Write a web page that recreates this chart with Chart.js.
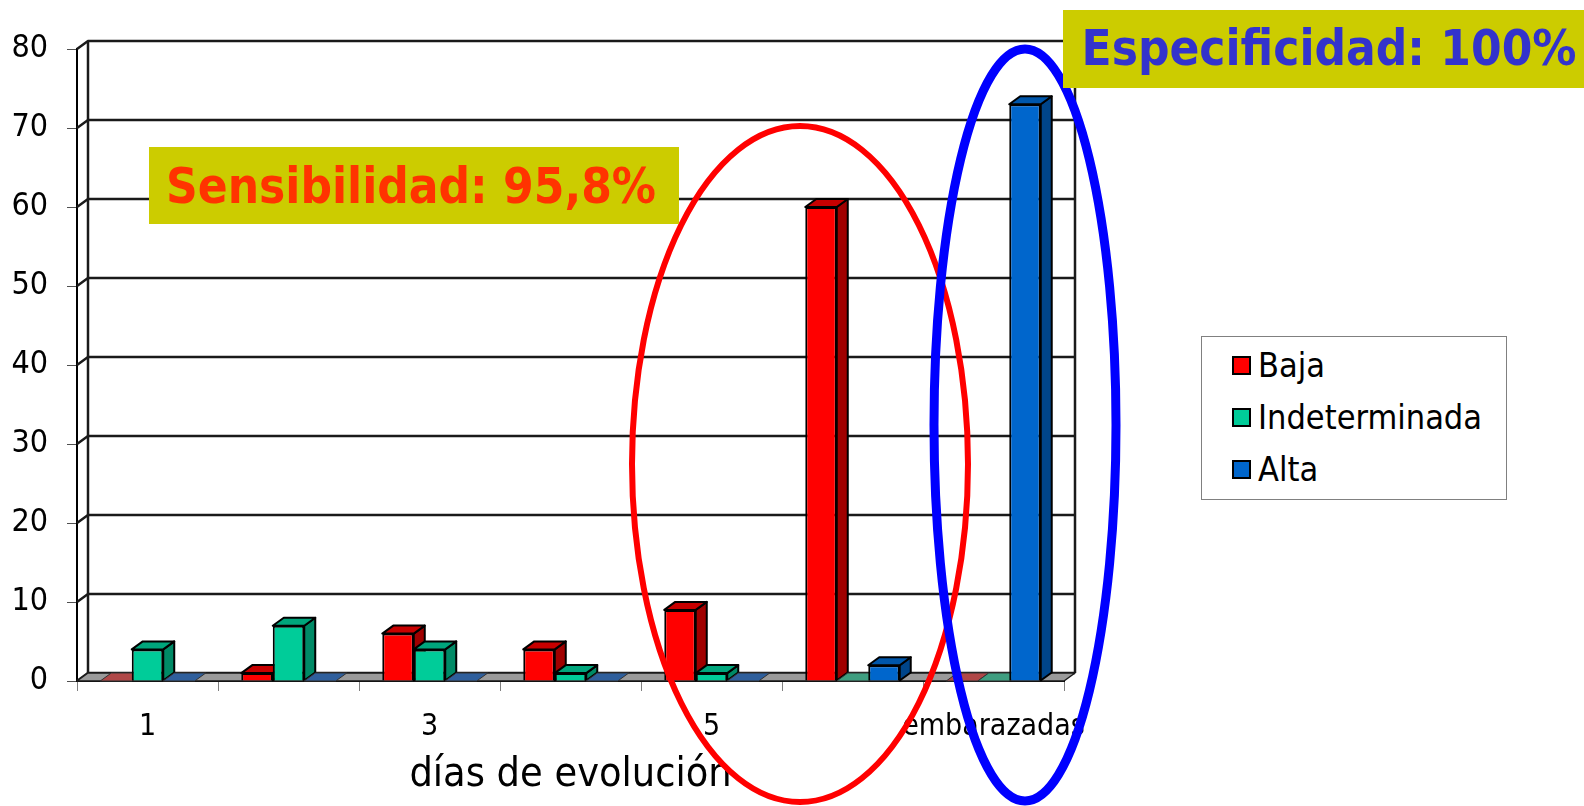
<!DOCTYPE html>
<html>
<head>
<meta charset="utf-8">
<script src="https://cdn.jsdelivr.net/npm/chart.js@4"></script>
<style>
  body { margin: 0; background: #fff; }
  #wrap { position: relative; width: 1584px; height: 806px; overflow: hidden; }
  #legend {
    position: absolute; left: 1201px; top: 336px; width: 304px; height: 162px;
    border: 1px solid #808080; background: #fff;
    font-family: 'DejaVu Sans Condensed', 'DejaVu Sans', sans-serif; font-size: 34px; color: #000;
  }
  #legend .row { position: absolute; left: 30px; height: 40px; line-height: 40px; white-space: nowrap; }
  #legend .sw { display: inline-block; width: 15px; height: 15px; border: 2px solid #000; vertical-align: middle; margin-right: 7px; position: relative; top: -2px; }
</style>
</head>
<body>
<div id="wrap">
  <canvas id="chart" width="1584" height="806"></canvas>
  <div id="legend"></div>
</div>
<script>
const categories = ['1', '2', '3', '4', '5', '6', 'embarazadas'];
const baja = [0, 1, 6, 4, 9, 60, 0];
const indeterminada = [4, 7, 4, 1, 1, 0, 0];
const alta = [0, 0, 0, 0, 0, 2, 73];
const seriesNames = ['Baja', 'Indeterminada', 'Alta'];
const yTicks = [0, 10, 20, 30, 40, 50, 60, 70, 80];

// front / side / top shades for each series
const shades = [
  { front: '#ff0000', side: '#a00000', top: '#c80000', floor: '#b04848' },
  { front: '#00cc99', side: '#008a66', top: '#00a67c', floor: '#3f9e80' },
  { front: '#0066cc', side: '#00458a', top: '#0056aa', floor: '#2f5f9c' }
];

const FONT = "'DejaVu Sans Condensed', 'DejaVu Sans', sans-serif";
const DX = 11, DY = 8; // depth offset of the back wall

function poly(ctx, pts, fill, stroke, lw) {
  ctx.beginPath();
  ctx.moveTo(pts[0][0], pts[0][1]);
  for (let i = 1; i < pts.length; i++) ctx.lineTo(pts[i][0], pts[i][1]);
  ctx.closePath();
  if (fill) { ctx.fillStyle = fill; ctx.fill(); }
  if (stroke) { ctx.strokeStyle = stroke; ctx.lineWidth = lw || 1.5; ctx.stroke(); }
}

// walls, floor and the depth faces of the columns
const frame3d = {
  id: 'frame3d',
  beforeDatasetsDraw(chart) {
    const { ctx, chartArea: a, scales: { y } } = chart;
    ctx.save();
    ctx.lineJoin = 'round';
    // back wall grid + left wall connectors
    ctx.strokeStyle = '#1a1a1a';
    ctx.lineWidth = 2.5;
    yTicks.forEach(v => {
      const py = y.getPixelForValue(v);
      ctx.beginPath();
      ctx.moveTo(a.left, py);
      ctx.lineTo(a.left + DX, py - DY);
      ctx.lineTo(a.right + DX, py - DY);
      ctx.stroke();
    });
    ctx.beginPath();
    ctx.moveTo(a.left + DX, a.top - DY);
    ctx.lineTo(a.left + DX, a.bottom - DY);
    ctx.moveTo(a.right + DX, a.top - DY);
    ctx.lineTo(a.right + DX, a.bottom - DY);
    ctx.stroke();
    // floor
    poly(ctx, [[a.left, a.bottom], [a.right, a.bottom], [a.right + DX, a.bottom - DY], [a.left + DX, a.bottom - DY]], '#9a9a9a', '#1a1a1a', 1.5);

    // side and top faces, left to right
    const bars = [];
    chart.data.datasets.forEach((ds, di) => {
      chart.getDatasetMeta(di).data.forEach((el, i) => bars.push({ el, di, v: ds.data[i] }));
    });
    bars.sort((p, q) => p.el.x - q.el.x);
    bars.forEach(({ el, di, v }) => {
      const s = shades[di];
      const l = el.x - el.width / 2, r = el.x + el.width / 2;
      const t = el.y, b = el.base;
      if (v === 0) {
        poly(ctx, [[l, b], [r, b], [r + DX, b - DY], [l + DX, b - DY]], s.floor, '#333', 1);
        return;
      }
      poly(ctx, [[r, t], [r + DX, t - DY], [r + DX, b - DY], [r, b]], s.side, '#000', 2);
      poly(ctx, [[l, t], [l + DX, t - DY], [r + DX, t - DY], [r, t]], s.top, '#000', 2);
    });
    ctx.restore();
  },
  afterDraw(chart) {
    const { ctx } = chart;
    ctx.save();
    // highlight rings
    ctx.lineWidth = 6;
    ctx.strokeStyle = '#ff0000';
    ctx.beginPath();
    ctx.ellipse(800, 464, 168, 338, 0, 0, Math.PI * 2);
    ctx.stroke();
    ctx.lineWidth = 9;
    ctx.strokeStyle = '#0000ff';
    ctx.beginPath();
    ctx.ellipse(1025, 425, 91, 376, 0, 0, Math.PI * 2);
    ctx.stroke();
    // callout boxes
    ctx.fillStyle = '#cccc00';
    ctx.fillRect(149, 147, 530, 77);
    ctx.fillRect(1063, 10, 521, 78);
    ctx.textBaseline = 'middle';
    ctx.textAlign = 'center';
    ctx.font = 'bold 49px ' + FONT;
    ctx.fillStyle = '#ff3300';
    ctx.fillText('Sensibilidad: 95,8%', 411, 190);
    ctx.fillStyle = '#3333cc';
    ctx.fillText('Especificidad: 100%', 1329, 52);
    ctx.restore();
  }
};

const values = [baja, indeterminada, alta];
new Chart(document.getElementById('chart'), {
  type: 'bar',
  data: {
    labels: categories,
    datasets: seriesNames.map((name, i) => ({
      label: name,
      data: values[i],
      backgroundColor: shades[i].front,
      borderColor: '#000',
      borderWidth: c => (c.raw === 0 ? 0 : 2),
      borderSkipped: 'start',
      categoryPercentage: 0.67,
      barPercentage: 1
    }))
  },
  options: {
    responsive: false,
    animation: false,
    layout: { padding: { left: 0, top: 49, right: 520, bottom: 0 } },
    plugins: { legend: { display: false }, tooltip: { enabled: false } },
    scales: {
      x: {
        afterFit: s => { s.height = 125; },
        grid: { drawOnChartArea: false, tickLength: 10, color: '#808080', lineWidth: 1, offset: true },
        border: { display: true, color: '#000', width: 2 },
        ticks: {
          autoSkip: false, maxRotation: 0, padding: 18, color: '#000',
          font: { family: FONT, size: 30 },
          callback: (v, i) => (i % 2 === 0 ? categories[i] : '')
        },
        title: { display: true, text: 'días de evolución', color: '#000', font: { family: FONT, size: 41 }, padding: { top: 0, bottom: 6 } }
      },
      y: {
        min: 0, max: 80,
        afterFit: s => { s.width = 77; },
        afterBuildTicks: s => { s.ticks = yTicks.map(v => ({ value: v })); },
        grid: { drawOnChartArea: false, tickLength: 10, color: '#505050', lineWidth: 1 },
        border: { display: true, color: '#000', width: 2 },
        ticks: { padding: 19, color: '#000', font: { family: FONT, size: 32 } }
      }
    }
  },
  plugins: [frame3d]
});

// legend box
const legend = document.getElementById('legend');
seriesNames.forEach((name, i) => {
  const row = document.createElement('div');
  row.className = 'row';
  row.style.top = (8 + i * 52) + 'px';
  row.innerHTML = '<span class="sw" style="background:' + shades[i].front + '"></span>' + name;
  legend.appendChild(row);
});
</script>
</body>
</html>
